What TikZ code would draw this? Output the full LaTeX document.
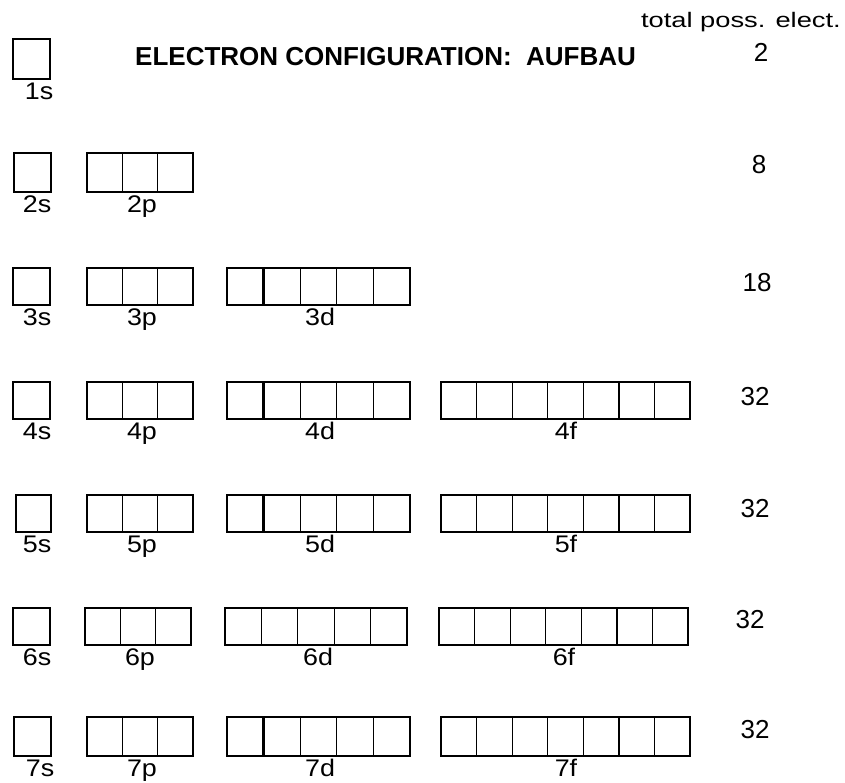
\documentclass[tikz,border=0pt]{standalone}
\usepackage{fontspec}
\setmainfont{Liberation Sans}
\newfontfamily\lblfont[FakeStretch=1.12]{Liberation Sans}
\newfontfamily\hdrfont[FakeStretch=1.3]{Liberation Sans}
\newcommand{\orbital}[9]{%
  \draw[orb] (#1,#3) rectangle (#2,#4);
  \ifnum#5>1
    \foreach \k in {2,...,#5}{\draw[orb] ({#1+(\k-1)*(#2-#1)/#5},#3) -- ({#1+(\k-1)*(#2-#1)/#5},#4);}
  \fi
  \node[lbl] (#6) at (#7,#9) {#8};
}
\newcommand{\thickdiv}[4]{\draw[thk] ({#1+(#2-#1)/5},#3) -- ({#1+(#2-#1)/5},#4);}
\begin{document}
\begin{tikzpicture}[x=1pt,y=-1pt,
  orb/.style={line width=1.3pt,draw=black},
  thk/.style={line width=2.6pt,draw=black},
  lbl/.style={font=\lblfont\fontsize{24}{24}\selectfont,inner sep=0pt,anchor=base},
  num/.style={font=\fontsize{26}{26}\selectfont,inner sep=0pt,anchor=center},
  ttl/.style={font=\bfseries\fontsize{26}{26}\selectfont,inner sep=0pt,anchor=west},
  hdr/.style={font=\hdrfont\fontsize{21}{21}\selectfont,inner sep=0pt,anchor=base east}]
\useasboundingbox[fill=white] (0,0) rectangle (845,782);
\node[hdr] (header) at (841,27.5) {total poss. elect.};
\node[ttl] (title) at (135,57) {ELECTRON CONFIGURATION:\ \ AUFBAU};
% row 1
\orbital{13}{50}{39}{79}{1}{s1}{39}{1s}{99.5}
\node[num] (n1) at (761,52) {2};
% row 2
\orbital{14}{51}{153}{192}{1}{s2}{37}{2s}{212.5}
\orbital{87}{193}{153}{192}{3}{p2}{142}{2p}{212.5}
\node[num] (n2) at (759,165) {8};
% row 3
\orbital{13}{50}{268}{305}{1}{s3}{37}{3s}{325.5}
\orbital{87}{193}{268}{305}{3}{p3}{142}{3p}{325.5}
\orbital{227}{410}{268}{305}{5}{d3}{320}{3d}{325.5}
\thickdiv{227}{410}{268}{305}
\node[num] (n3) at (757,283) {18};
% row 4
\orbital{13}{50}{382}{419}{1}{s4}{37}{4s}{439.5}
\orbital{87}{193}{382}{419}{3}{p4}{142}{4p}{439.5}
\orbital{227}{410}{382}{419}{5}{d4}{320}{4d}{439.5}
\thickdiv{227}{410}{382}{419}
\orbital{441}{690}{382}{419}{7}{f4}{566}{4f}{439.5}
\node[num] (n4) at (755,397) {32};
% row 5
\orbital{16}{51}{495}{532}{1}{s5}{37}{5s}{552.5}
\orbital{87}{193}{495}{532}{3}{p5}{142}{5p}{552.5}
\orbital{227}{410}{495}{532}{5}{d5}{320}{5d}{552.5}
\thickdiv{227}{410}{495}{532}
\orbital{441}{690}{495}{532}{7}{f5}{566}{5f}{552.5}
\node[num] (n5) at (755,509) {32};
% row 6
\orbital{13}{50}{608}{645}{1}{s6}{37}{6s}{665.5}
\orbital{85}{191}{608}{645}{3}{p6}{140}{6p}{665.5}
\orbital{225}{407}{608}{645}{5}{d6}{318}{6d}{665.5}
\orbital{439}{688}{608}{645}{7}{f6}{564}{6f}{665.5}
\node[num] (n6) at (750,620) {32};
% row 7
\orbital{14}{51}{717}{756}{1}{s7}{40}{7s}{776}
\orbital{87}{193}{717}{756}{3}{p7}{142}{7p}{776}
\orbital{227}{410}{717}{756}{5}{d7}{320}{7d}{776}
\thickdiv{227}{410}{717}{756}
\orbital{441}{690}{717}{756}{7}{f7}{566}{7f}{776}
\node[num] (n7) at (755,730) {32};
\end{tikzpicture}
\end{document}
